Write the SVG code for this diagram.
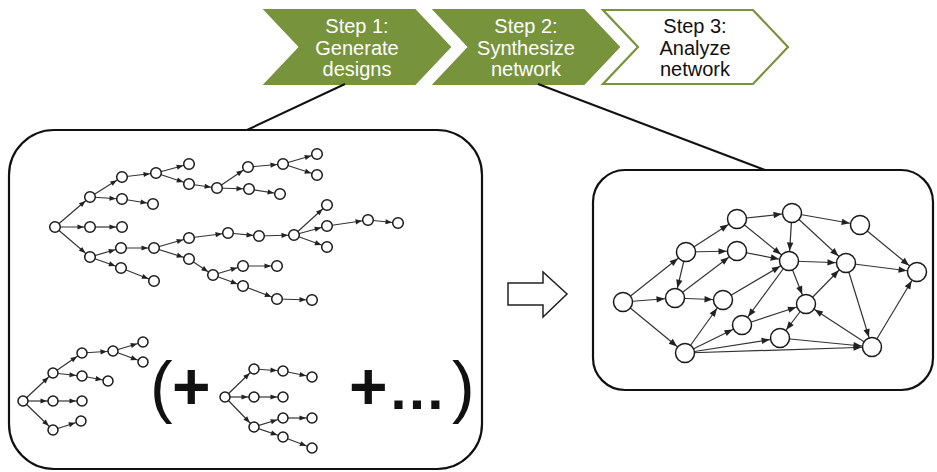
<svg xmlns="http://www.w3.org/2000/svg" width="937" height="472" viewBox="0 0 937 472">
<style>
.bg{fill:#fff}
.chev{fill:#77933c;stroke:#77933c;stroke-width:2}
.chev3{fill:#fff;stroke:#77933c;stroke-width:2.2}
.st{font-family:"Liberation Sans",Arial,sans-serif;font-size:20px;text-anchor:middle}
.w{fill:#fff}
.k{fill:#111}
.box{fill:#fff;stroke:#111;stroke-width:2.2}
.lead{stroke:#111;stroke-width:2}
.n circle{fill:#fff;stroke:#1a1a1a;stroke-width:1.5}
.te line{stroke:#333;stroke-width:1.2;marker-end:url(#ta)}
.ne line{stroke:#333;stroke-width:1.2;marker-end:url(#na)}
.big{font-family:"Liberation Sans",Arial,sans-serif;font-size:66px;font-weight:bold;fill:#111}
.par{font-family:"Liberation Sans",Arial,sans-serif;font-size:68px;fill:#111}
</style>
<defs>
<marker id="ta" markerUnits="userSpaceOnUse" viewBox="-20 -6 20 12" markerWidth="20" markerHeight="12" refX="0" refY="0" orient="auto"><path d="M-12.5,-2.6 L-6,0 L-12.5,2.6z" fill="#222"/></marker>
<marker id="na" markerUnits="userSpaceOnUse" viewBox="-24 -6 24 12" markerWidth="24" markerHeight="12" refX="0" refY="0" orient="auto"><path d="M-18.5,-3.2 L-10.3,0 L-18.5,3.2z" fill="#222"/></marker>
</defs>
<rect class="bg" x="0" y="0" width="937" height="472"/>

<g id="step1"><polygon class="chev" points="265,10 415,10 450,47 415,84 265,84 300,47"/>
<text class="st w" x="357" y="33">Step 1:</text><text class="st w" x="357" y="55">Generate</text><text class="st w" x="357" y="76">designs</text></g>
<g id="step2"><polygon class="chev" points="434,10 584,10 619,47 584,84 434,84 469,47"/>
<text class="st w" x="526" y="33">Step 2:</text><text class="st w" x="526" y="55">Synthesize</text><text class="st w" x="526" y="76">network</text></g>
<g id="step3"><polygon class="chev3" points="603,10 753,10 788,47 753,84 603,84 638,47"/>
<text class="st k" x="695" y="33">Step 3:</text><text class="st k" x="695" y="55">Analyze</text><text class="st k" x="695" y="76">network</text></g>

<g id="leads"><line class="lead" x1="345" y1="84" x2="247" y2="130"/><line class="lead" x1="538" y1="84" x2="765" y2="170"/></g>

<g id="designs-box"><rect class="box" x="9" y="130" width="473" height="339" rx="45"/></g>
<g id="network-box"><rect class="box" x="593" y="170" width="340" height="220" rx="32"/></g>
<g id="block-arrow"><polygon points="508,283 543,283 543,272 567,294 543,317 543,305 508,305" fill="#fff" stroke="#222" stroke-width="1.5"/></g>

<g id="connectors">
<g class="te">
<line x1="55" y1="227" x2="90" y2="197"/><line x1="55" y1="227" x2="90" y2="227"/><line x1="55" y1="227" x2="90" y2="257"/>
<line x1="90" y1="197" x2="122" y2="177"/><line x1="90" y1="197" x2="122" y2="199"/>
<line x1="122" y1="177" x2="156" y2="173"/><line x1="156" y1="173" x2="189" y2="164"/><line x1="156" y1="173" x2="189" y2="184"/>
<line x1="189" y1="184" x2="217" y2="188"/><line x1="217" y1="188" x2="248" y2="167"/><line x1="217" y1="188" x2="249" y2="189"/>
<line x1="248" y1="167" x2="283" y2="164"/><line x1="283" y1="164" x2="317" y2="154"/><line x1="283" y1="164" x2="317" y2="175"/>
<line x1="249" y1="189" x2="280" y2="194"/><line x1="122" y1="199" x2="153" y2="204"/><line x1="90" y1="227" x2="122" y2="227"/>
<line x1="90" y1="257" x2="121" y2="248"/><line x1="90" y1="257" x2="121" y2="268"/><line x1="121" y1="248" x2="154" y2="248"/>
<line x1="154" y1="248" x2="189" y2="238"/><line x1="154" y1="248" x2="189" y2="259"/><line x1="189" y1="238" x2="228" y2="233"/>
<line x1="228" y1="233" x2="259" y2="236"/><line x1="259" y1="236" x2="294" y2="235"/><line x1="294" y1="235" x2="327" y2="205"/>
<line x1="294" y1="235" x2="327" y2="226"/><line x1="294" y1="235" x2="327" y2="247"/><line x1="327" y1="226" x2="368" y2="220"/>
<line x1="368" y1="220" x2="398" y2="223"/><line x1="189" y1="259" x2="213" y2="275"/><line x1="213" y1="275" x2="243" y2="266"/>
<line x1="213" y1="275" x2="243" y2="286"/><line x1="243" y1="266" x2="277" y2="266"/><line x1="243" y1="286" x2="277" y2="299"/>
<line x1="277" y1="299" x2="312" y2="300"/><line x1="121" y1="268" x2="154" y2="281"/>
<line x1="23" y1="401" x2="53" y2="373"/><line x1="23" y1="401" x2="53" y2="401"/><line x1="23" y1="401" x2="53" y2="430"/>
<line x1="53" y1="373" x2="82" y2="353"/><line x1="53" y1="373" x2="82" y2="376"/><line x1="82" y1="353" x2="113" y2="351"/>
<line x1="113" y1="351" x2="143" y2="342"/><line x1="113" y1="351" x2="143" y2="362"/><line x1="82" y1="376" x2="108" y2="381"/>
<line x1="53" y1="401" x2="82" y2="401"/><line x1="53" y1="430" x2="81" y2="421"/>
<line x1="225" y1="397" x2="254" y2="369"/><line x1="254" y1="369" x2="283" y2="371"/><line x1="283" y1="371" x2="312" y2="377"/>
<line x1="225" y1="397" x2="254" y2="397"/><line x1="254" y1="397" x2="283" y2="397"/><line x1="225" y1="397" x2="254" y2="427"/>
<line x1="254" y1="427" x2="283" y2="418"/><line x1="283" y1="418" x2="312" y2="418"/><line x1="254" y1="427" x2="283" y2="437"/>
<line x1="283" y1="437" x2="312" y2="448"/>
</g>
<g class="ne">
<line x1="623" y1="302" x2="686" y2="252"/><line x1="623" y1="302" x2="675" y2="298"/><line x1="623" y1="302" x2="685" y2="353"/>
<line x1="686" y1="252" x2="737" y2="219"/><line x1="686" y1="252" x2="737" y2="251"/><line x1="686" y1="252" x2="675" y2="298"/>
<line x1="675" y1="298" x2="737" y2="251"/><line x1="675" y1="298" x2="723" y2="300"/><line x1="685" y1="353" x2="723" y2="300"/>
<line x1="685" y1="353" x2="742" y2="325"/><line x1="685" y1="353" x2="780" y2="338"/><line x1="685" y1="353" x2="872" y2="347"/>
<line x1="737" y1="219" x2="792" y2="213"/><line x1="737" y1="219" x2="789" y2="261"/><line x1="737" y1="251" x2="789" y2="261"/>
<line x1="723" y1="300" x2="789" y2="261"/><line x1="792" y1="213" x2="789" y2="261"/><line x1="792" y1="213" x2="860" y2="225"/>
<line x1="792" y1="213" x2="846" y2="263"/><line x1="789" y1="261" x2="846" y2="263"/><line x1="789" y1="261" x2="806" y2="304"/>
<line x1="789" y1="261" x2="742" y2="325"/><line x1="860" y1="225" x2="917" y2="272"/><line x1="846" y1="263" x2="917" y2="272"/>
<line x1="846" y1="263" x2="872" y2="347"/><line x1="806" y1="304" x2="846" y2="263"/><line x1="806" y1="304" x2="780" y2="338"/>
<line x1="872" y1="347" x2="806" y2="304"/><line x1="780" y1="338" x2="872" y2="347"/><line x1="872" y1="347" x2="917" y2="272"/>
<line x1="742" y1="325" x2="806" y2="304"/>
</g>
</g>

<g id="tree1" class="n">
<g id="t0"><circle cx="55" cy="227" r="5.3"/></g><g id="t1"><circle cx="90" cy="197" r="5.3"/></g><g id="t2"><circle cx="90" cy="227" r="5.3"/></g>
<g id="t3"><circle cx="90" cy="257" r="5.3"/></g><g id="t4"><circle cx="122" cy="177" r="5.3"/></g><g id="t5"><circle cx="122" cy="199" r="5.3"/></g>
<g id="t6"><circle cx="156" cy="173" r="5.3"/></g><g id="t7"><circle cx="153" cy="204" r="5.3"/></g><g id="t8"><circle cx="189" cy="164" r="5.3"/></g>
<g id="t9"><circle cx="189" cy="184" r="5.3"/></g><g id="t10"><circle cx="217" cy="188" r="5.3"/></g><g id="t11"><circle cx="248" cy="167" r="5.3"/></g>
<g id="t12"><circle cx="249" cy="189" r="5.3"/></g><g id="t13"><circle cx="283" cy="164" r="5.3"/></g><g id="t14"><circle cx="317" cy="154" r="5.3"/></g>
<g id="t15"><circle cx="317" cy="175" r="5.3"/></g><g id="t16"><circle cx="280" cy="194" r="5.3"/></g><g id="t17"><circle cx="122" cy="227" r="5.3"/></g>
<g id="t18"><circle cx="121" cy="248" r="5.3"/></g><g id="t19"><circle cx="121" cy="268" r="5.3"/></g><g id="t20"><circle cx="154" cy="248" r="5.3"/></g>
<g id="t21"><circle cx="154" cy="281" r="5.3"/></g><g id="t22"><circle cx="189" cy="238" r="5.3"/></g><g id="t23"><circle cx="189" cy="259" r="5.3"/></g>
<g id="t24"><circle cx="228" cy="233" r="5.3"/></g><g id="t25"><circle cx="259" cy="236" r="5.3"/></g><g id="t26"><circle cx="294" cy="235" r="5.3"/></g>
<g id="t27"><circle cx="327" cy="205" r="5.3"/></g><g id="t28"><circle cx="327" cy="226" r="5.3"/></g><g id="t29"><circle cx="327" cy="247" r="5.3"/></g>
<g id="t30"><circle cx="368" cy="220" r="5.3"/></g><g id="t31"><circle cx="398" cy="223" r="5.3"/></g><g id="t32"><circle cx="213" cy="275" r="5.3"/></g>
<g id="t33"><circle cx="243" cy="266" r="5.3"/></g><g id="t34"><circle cx="243" cy="286" r="5.3"/></g><g id="t35"><circle cx="277" cy="266" r="5.3"/></g>
<g id="t36"><circle cx="277" cy="299" r="5.3"/></g><g id="t37"><circle cx="312" cy="300" r="5.3"/></g>
</g>

<g id="tree2" class="n">
<g id="u0"><circle cx="23" cy="401" r="5"/></g><g id="u1"><circle cx="53" cy="373" r="5"/></g><g id="u2"><circle cx="53" cy="401" r="5"/></g>
<g id="u3"><circle cx="53" cy="430" r="5"/></g><g id="u4"><circle cx="82" cy="353" r="5"/></g><g id="u5"><circle cx="82" cy="376" r="5"/></g>
<g id="u6"><circle cx="113" cy="351" r="5"/></g><g id="u7"><circle cx="143" cy="342" r="5"/></g><g id="u8"><circle cx="143" cy="362" r="5"/></g>
<g id="u9"><circle cx="108" cy="381" r="5"/></g><g id="u10"><circle cx="82" cy="401" r="5"/></g><g id="u11"><circle cx="81" cy="421" r="5"/></g>
</g>

<g id="tree3" class="n">
<g id="v0"><circle cx="225" cy="397" r="5"/></g><g id="v1"><circle cx="254" cy="369" r="5"/></g><g id="v2"><circle cx="283" cy="371" r="5"/></g>
<g id="v3"><circle cx="312" cy="377" r="5"/></g><g id="v4"><circle cx="254" cy="397" r="5"/></g><g id="v5"><circle cx="283" cy="397" r="5"/></g>
<g id="v6"><circle cx="254" cy="427" r="5"/></g><g id="v7"><circle cx="283" cy="418" r="5"/></g><g id="v8"><circle cx="312" cy="418" r="5"/></g>
<g id="v9"><circle cx="283" cy="437" r="5"/></g><g id="v10"><circle cx="312" cy="448" r="5"/></g>
</g>

<g id="formula">
<text class="par" x="150" y="410">(</text>
<text class="big" x="172" y="409">+</text>
<text class="big" x="349" y="409">+</text>
<text class="big" x="388" y="409" style="font-size:58px">…</text>
<text class="par" x="452" y="410">)</text>
</g>

<g id="network" class="n">
<g id="A"><circle cx="623" cy="302" r="9.5"/></g><g id="B"><circle cx="686" cy="252" r="9.5"/></g><g id="C"><circle cx="675" cy="298" r="9.5"/></g>
<g id="D"><circle cx="685" cy="353" r="9.5"/></g><g id="E"><circle cx="737" cy="219" r="9.5"/></g><g id="F"><circle cx="737" cy="251" r="9.5"/></g>
<g id="G"><circle cx="723" cy="300" r="9.5"/></g><g id="H"><circle cx="742" cy="325" r="9.5"/></g><g id="I"><circle cx="792" cy="213" r="9.5"/></g>
<g id="J"><circle cx="860" cy="225" r="9.5"/></g><g id="K"><circle cx="789" cy="261" r="9.5"/></g><g id="L"><circle cx="846" cy="263" r="9.5"/></g>
<g id="M"><circle cx="917" cy="272" r="9.5"/></g><g id="N"><circle cx="806" cy="304" r="9.5"/></g><g id="O"><circle cx="780" cy="338" r="9.5"/></g>
<g id="P"><circle cx="872" cy="347" r="9.5"/></g>
</g>
</svg>
